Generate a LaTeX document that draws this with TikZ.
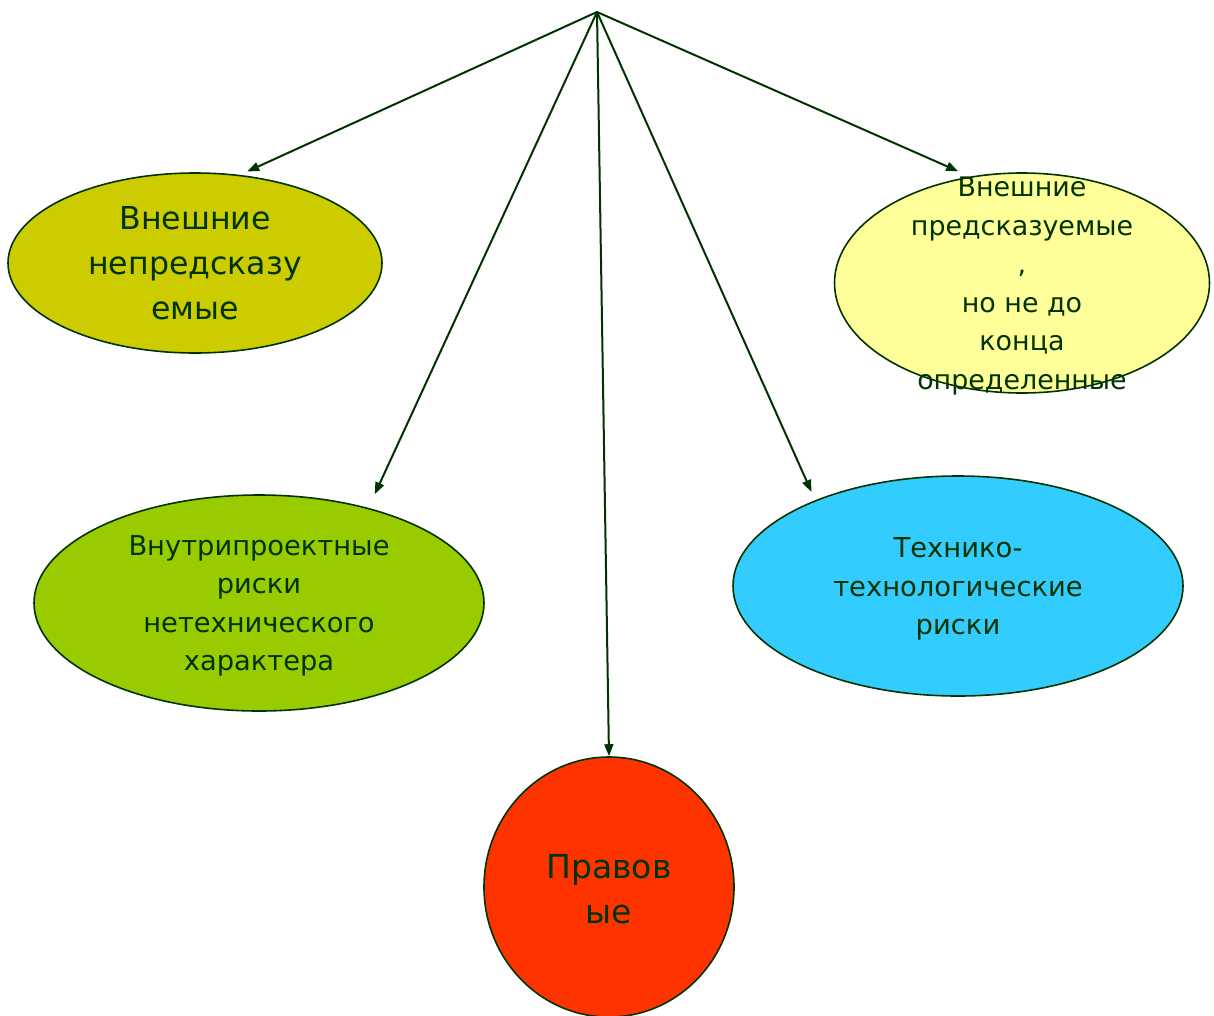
\documentclass[tikz,border=0pt]{standalone}
\usepackage{fontspec}
\setmainfont{DejaVu Sans}
\usetikzlibrary{shapes.geometric,arrows.meta}
\definecolor{ink}{HTML}{003300}
\definecolor{olive}{HTML}{CCCC00}
\definecolor{paleyellow}{HTML}{FFFF99}
\definecolor{leaf}{HTML}{99CC00}
\definecolor{sky}{HTML}{33CCFF}
\definecolor{scarlet}{HTML}{FF3300}
\begin{document}
\begin{tikzpicture}[x=1pt,y=-1pt,
  oval/.style={ellipse, draw=ink, line width=1.6pt, inner sep=0pt},
  lbl/.style={text=ink, align=center, inner sep=0pt},
  link/.style={draw=ink, line width=2pt, -{Triangle[length=12pt,width=9pt]}}]
\useasboundingbox (0,0) rectangle (1214,1015);

% risk groups
\node[oval, fill=olive, minimum width=374pt, minimum height=180pt] (e1) at (195,263) {};
\node[oval, fill=paleyellow, minimum width=375pt, minimum height=220pt] (e2) at (1022,283) {};
\node[oval, fill=leaf, minimum width=450pt, minimum height=216pt] (e3) at (259,603) {};
\node[oval, fill=sky, minimum width=450pt, minimum height=220pt] (e4) at (958,586) {};
\node[oval, fill=scarlet, minimum width=250pt, minimum height=260pt] (e5) at (609,887) {};

% labels
\node[lbl, font=\fontsize{31.6}{45}\selectfont] (t1) at (195,263) {Внешние\\непредсказу\\емые};
\node[lbl, font=\fontsize{26.9}{38.5}\selectfont] (t2) at (1022,286) {Внешние\\предсказуемые\\,\\ но не до\\конца\\определенные};
\node[lbl, font=\fontsize{27.3}{38.3}\selectfont] (t3) at (259,606) {Внутрипроектные\\риски\\нетехнического\\характера};
\node[lbl, font=\fontsize{27.4}{38.5}\selectfont] (t4) at (958,589) {Технико-\\технологические\\риски};
\node[lbl, font=\fontsize{33}{45}\selectfont] (t5) at (609,889) {Правов\\ые};

% connectors from the common root
\coordinate (apex) at (597,12);
\draw[link, shorten >=8pt] (apex) -- (e1.63.1);
\draw[link, shorten >=13pt] (apex) -- (e2.116.5);
\draw[link, shorten >=15pt] (apex) -- (e3.41.6);
\draw[link] (apex) -- (e5.north);
\draw[link, shorten >=9pt] (apex) -- (e4.149.4);
\end{tikzpicture}
\end{document}
